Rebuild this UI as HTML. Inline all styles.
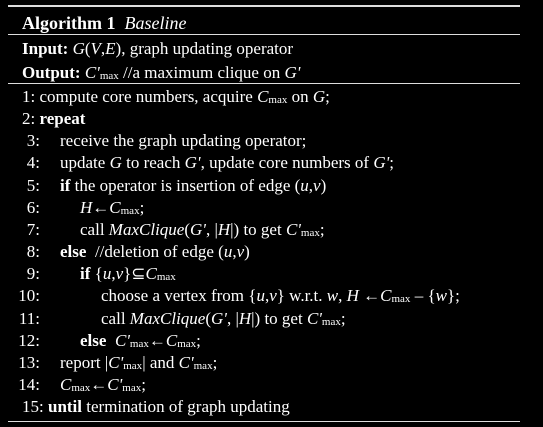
<!DOCTYPE html>
<html><head><style>
body{margin:0;background:#000;width:543px;height:427px;overflow:hidden;font-family:"Liberation Serif",serif;color:#fff;font-size:17px}
.r{position:absolute;white-space:nowrap;line-height:20px}
.h{position:absolute;left:8px;width:512px;background:#ddd}
.n{position:absolute;width:40px;text-align:right;left:0}
i{font-style:italic}
sub{font-size:11px;vertical-align:-1px}
</style></head><body>
<div class="h" style="top:5px;height:2px"></div>
<div class="h" style="top:34px;height:1px"></div>
<div class="h" style="top:83px;height:1px"></div>
<div class="h" style="top:421px;height:1px"></div>
<div class="r" style="left:22px;top:13px;font-size:18px"><b>Algorithm 1</b> &nbsp;<i>Baseline</i></div>
<div class="r" style="left:22px;top:39px"><b>Input:</b> <i>G</i>(<i>V</i>,<i>E</i>), graph updating operator</div>
<div class="r" style="left:22px;top:63px"><b>Output:</b> <i>C'</i><sub>max</sub> //a maximum clique on <i>G'</i></div>

<div class="r" style="left:22px;top:87px">1: compute core numbers, acquire <i>C</i><sub>max</sub> on <i>G</i>;</div>
<div class="r" style="left:22px;top:109px">2: <b>repeat</b></div>
<div class="r" style="top:131px;left:0;width:540px"><span class="n">3:</span><span style="position:absolute;left:60px">receive the graph updating operator;</span></div>
<div class="r" style="top:153px;left:0;width:540px"><span class="n">4:</span><span style="position:absolute;left:60px">update <i>G</i> to reach <i>G'</i>, update core numbers of <i>G'</i>;</span></div>
<div class="r" style="top:176px;left:0;width:540px"><span class="n">5:</span><span style="position:absolute;left:60px"><b>if</b> the operator is insertion of edge (<i>u</i>,<i>v</i>)</span></div>
<div class="r" style="top:198px;left:0;width:540px"><span class="n">6:</span><span style="position:absolute;left:80px"><i>H</i>←<i>C</i><sub>max</sub>;</span></div>
<div class="r" style="top:220px;left:0;width:540px"><span class="n">7:</span><span style="position:absolute;left:80px">call <i>MaxClique</i>(<i>G'</i>, |<i>H</i>|) to get <i>C'</i><sub>max</sub>;</span></div>
<div class="r" style="top:242px;left:0;width:540px"><span class="n">8:</span><span style="position:absolute;left:60px"><b>else</b> &nbsp;//deletion of edge (<i>u</i>,<i>v</i>)</span></div>
<div class="r" style="top:264px;left:0;width:540px"><span class="n">9:</span><span style="position:absolute;left:80px"><b>if</b> {<i>u</i>,<i>v</i>}⊆<i>C</i><sub>max</sub></span></div>
<div class="r" style="top:286px;left:0;width:540px"><span class="n">10:</span><span style="position:absolute;left:101px">choose a vertex from {<i>u</i>,<i>v</i>} w.r.t. <i>w</i>, <i>H</i> ←<i>C</i><sub>max</sub> – {<i>w</i>};</span></div>
<div class="r" style="top:309px;left:0;width:540px"><span class="n">11:</span><span style="position:absolute;left:101px">call <i>MaxClique</i>(<i>G'</i>, |<i>H</i>|) to get <i>C'</i><sub>max</sub>;</span></div>
<div class="r" style="top:331px;left:0;width:540px"><span class="n">12:</span><span style="position:absolute;left:80px"><b>else</b> &nbsp;<i>C'</i><sub>max</sub>←<i>C</i><sub>max</sub>;</span></div>
<div class="r" style="top:353px;left:0;width:540px"><span class="n">13:</span><span style="position:absolute;left:60px">report |<i>C'</i><sub>max</sub>| and <i>C'</i><sub>max</sub>;</span></div>
<div class="r" style="top:375px;left:0;width:540px"><span class="n">14:</span><span style="position:absolute;left:60px"><i>C</i><sub>max</sub>←<i>C'</i><sub>max</sub>;</span></div>
<div class="r" style="left:22px;top:397px">15: <b>until</b> termination of graph updating</div>
</body></html>
